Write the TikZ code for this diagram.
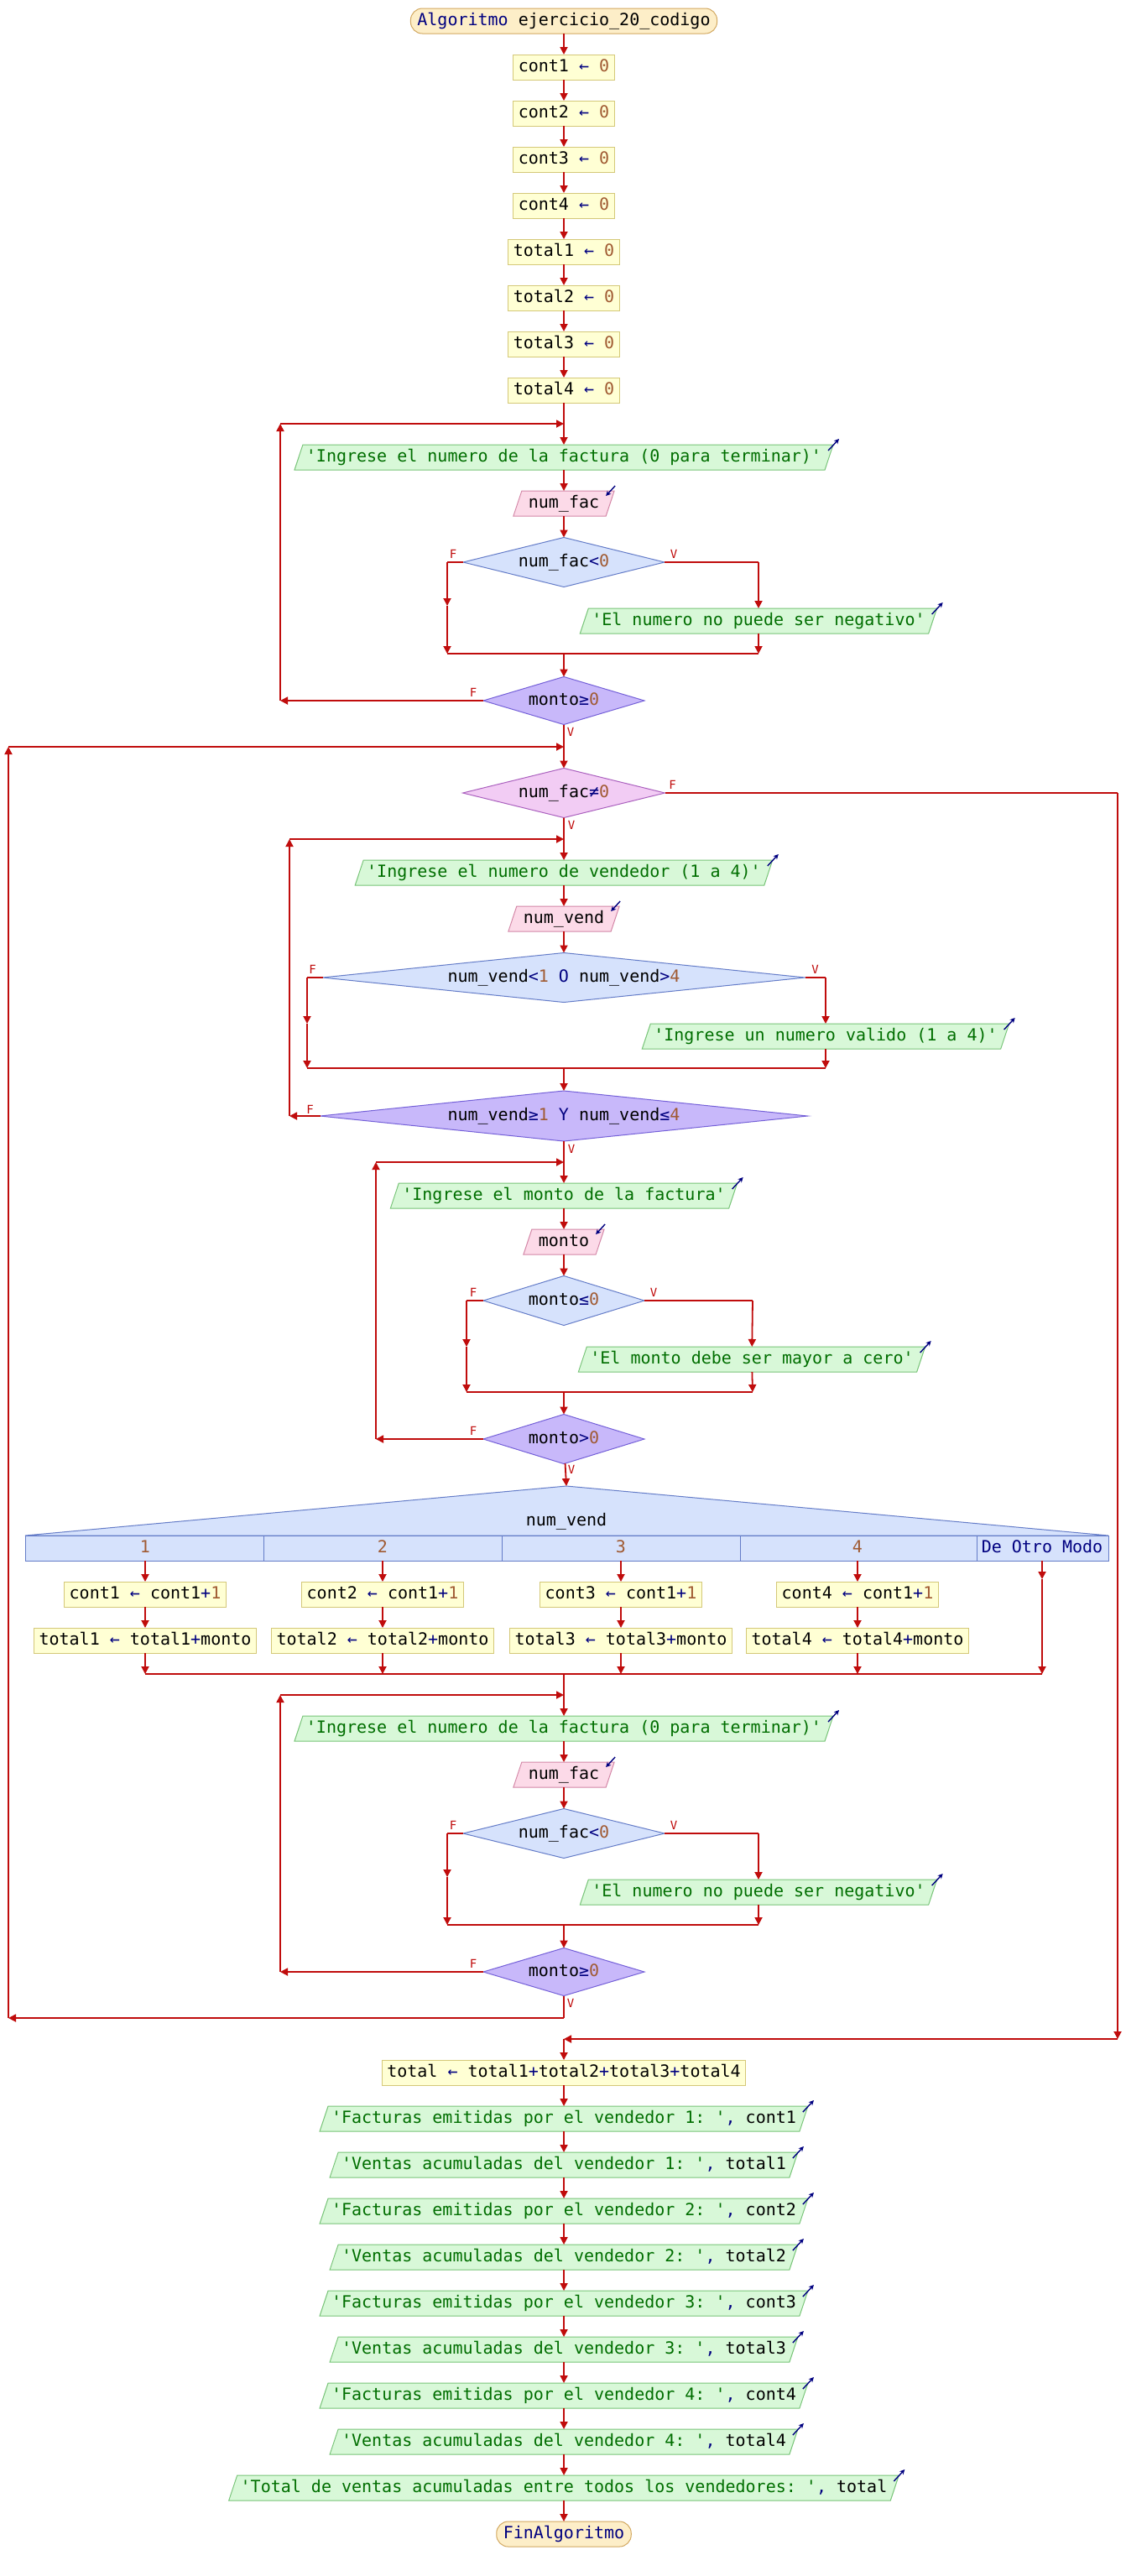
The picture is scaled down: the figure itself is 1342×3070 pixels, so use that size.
\documentclass[tikz,border=0pt]{standalone}
\usepackage{fontspec}
\setmonofont{DejaVu Sans Mono}
\usetikzlibrary{shapes.geometric,arrows.meta,calc}

\definecolor{flowred}{RGB}{192,12,12}
\definecolor{asgfill}{RGB}{255,255,212}
\definecolor{asgdraw}{RGB}{212,200,120}
\definecolor{outfill}{RGB}{216,248,216}
\definecolor{outdraw}{RGB}{120,196,120}
\definecolor{infill}{RGB}{252,218,232}
\definecolor{indraw}{RGB}{212,136,168}
\definecolor{iffill}{RGB}{214,226,252}
\definecolor{ifdraw}{RGB}{100,124,200}
\definecolor{repfill}{RGB}{200,184,250}
\definecolor{repdraw}{RGB}{116,96,216}
\definecolor{whfill}{RGB}{242,204,244}
\definecolor{whdraw}{RGB}{170,96,190}
\definecolor{termfill}{RGB}{253,238,200}
\definecolor{termdraw}{RGB}{210,168,96}
\definecolor{kwc}{RGB}{0,0,128}
\definecolor{strc}{RGB}{0,110,0}
\definecolor{numc}{RGB}{160,90,50}

\newcommand\tkw[1]{\textcolor{kwc}{#1}}
\newcommand\tops[1]{\textcolor{kwc}{#1}}
\newcommand\tstr[1]{\textcolor{strc}{#1}}
\newcommand\tnum[1]{\textcolor{numc}{#1}}

\begin{document}
\begin{tikzpicture}[x=0.5pt,y=-0.5pt,
  every node/.style={font=\ttfamily\fontsize{10}{12}\selectfont,
    text height=7pt, text depth=2pt, outer sep=0pt},
  asg/.style={draw=asgdraw, fill=asgfill, line width=0.5pt,
    minimum height=15pt, inner xsep=3pt, inner ysep=0pt},
  term/.style={draw=termdraw, fill=termfill, line width=0.5pt,
    rounded corners=7pt, minimum height=15pt, inner xsep=4pt, inner ysep=0pt},
  outp/.style={trapezium, trapezium left angle=71.6, trapezium right angle=108.4,
    draw=outdraw, fill=outfill, line width=0.5pt, inner xsep=2pt, inner ysep=3pt},
  inp/.style={trapezium, trapezium left angle=71.6, trapezium right angle=108.4,
    draw=indraw, fill=infill, line width=0.5pt, inner xsep=4pt, inner ysep=3pt},
  ifdec/.style={diamond, shape aspect=4, draw=ifdraw, fill=iffill, line width=0.5pt, inner sep=0pt},
  repdec/.style={diamond, shape aspect=4, draw=repdraw, fill=repfill, line width=0.5pt, inner sep=0pt},
  whdec/.style={diamond, shape aspect=4, draw=whdraw, fill=whfill, line width=0.5pt, inner sep=0pt},
  flow/.style={draw=flowred, line width=0.9pt, -{Triangle[length=4.5pt,width=4.5pt]}},
  seg/.style={draw=flowred, line width=0.9pt},
  lbl/.style={text=flowred, font=\ttfamily\fontsize{7}{8}\selectfont, inner sep=0pt},
  outicon/.style={draw=kwc, line width=0.7pt, -{Stealth[length=3pt,width=3pt]}},
  caselbl/.style={minimum height=15pt, inner sep=0pt},
]
\fill[white] (0,0) rectangle (1342,3070);
\useasboundingbox (0,0) rectangle (1342,3070);

% ---------- initialisation ----------
\node[term] (start) at (672,25) {\tkw{Algoritmo} ejercicio\_20\_codigo};
\node[asg] (a1) at (672,80)  {cont1 \tops{←} \tnum{0}};
\node[asg] (a2) at (672,135) {cont2 \tops{←} \tnum{0}};
\node[asg] (a3) at (672,190) {cont3 \tops{←} \tnum{0}};
\node[asg] (a4) at (672,245) {cont4 \tops{←} \tnum{0}};
\node[asg] (a5) at (672,300) {total1 \tops{←} \tnum{0}};
\node[asg] (a6) at (672,355) {total2 \tops{←} \tnum{0}};
\node[asg] (a7) at (672,410) {total3 \tops{←} \tnum{0}};
\node[asg] (a8) at (672,465) {total4 \tops{←} \tnum{0}};

% ---------- first repeat: read invoice number ----------
\node[outp] (o1) at (672,545) {\tstr{'Ingrese el numero de la factura (0 para terminar)'}};
\node[inp] (i1) at (672,600) {num\_fac};
\node[ifdec, minimum width=120pt, minimum height=29.5pt] (d1) at (672,670) {num\_fac\tops{<}\tnum{0}};
\node[outp] (o2) at (904,740) {\tstr{'El numero no puede ser negativo'}};
\node[repdec, minimum width=96pt, minimum height=28.5pt] (r1) at (672,835) {monto\tops{≥}\tnum{0}};

% ---------- while num_fac<>0 ----------
\node[whdec, minimum width=120.5pt, minimum height=29.5pt] (w1) at (672,945) {num\_fac\tops{≠}\tnum{0}};

% ---------- repeat: read seller ----------
\node[outp] (o3) at (672,1040) {\tstr{'Ingrese el numero de vendedor (1 a 4)'}};
\node[inp] (i2) at (672,1095) {num\_vend};
\node[ifdec, shape aspect=10, minimum width=287.5pt, minimum height=29.5pt] (d2) at (672,1165)
  {num\_vend\tops{<}\tnum{1} \tkw{O} num\_vend\tops{>}\tnum{4}};
\node[outp] (o4) at (984,1235) {\tstr{'Ingrese un numero valido (1 a 4)'}};
\node[repdec, shape aspect=10, minimum width=290.5pt, minimum height=30pt] (r2) at (672,1330)
  {num\_vend\tops{≥}\tnum{1} \tkw{Y} num\_vend\tops{≤}\tnum{4}};

% ---------- repeat: read amount ----------
\node[outp] (o5) at (672,1425) {\tstr{'Ingrese el monto de la factura'}};
\node[inp] (i3) at (672,1480) {monto};
\node[ifdec, minimum width=96pt, minimum height=29.5pt] (d3) at (672,1550) {monto\tops{≤}\tnum{0}};
\node[outp] (o6) at (896,1620) {\tstr{'El monto debe ser mayor a cero'}};
\node[repdec, minimum width=96pt, minimum height=29.5pt] (r3) at (672,1715) {monto\tops{>}\tnum{0}};

% ---------- segun num_vend ----------
\filldraw[fill=iffill, draw=ifdraw, line width=0.5pt] (30,1830) -- (675,1771) -- (1321,1830) -- cycle;
\filldraw[fill=iffill, draw=ifdraw, line width=0.5pt] (30,1830) rectangle (1321,1860);
\foreach \xd in {314,598,882,1164} \draw[ifdraw, line width=0.5pt] (\xd,1830) -- (\xd,1860);
\coordinate (sgtop) at (675,1771);
\node (sgvar) at (675,1813) {num\_vend};
\node[caselbl] (c1) at (173,1845) {\tnum{1}};
\node[caselbl] (c2) at (456,1845) {\tnum{2}};
\node[caselbl] (c3) at (740,1845) {\tnum{3}};
\node[caselbl] (c4) at (1022,1845) {\tnum{4}};
\node[caselbl] (c5) at (1242,1845) {\tkw{De Otro Modo}};
\node[asg] (b1) at (173,1900) {cont1 \tops{←} cont1\tops{+}\tnum{1}};
\node[asg] (b2) at (456,1900) {cont2 \tops{←} cont1\tops{+}\tnum{1}};
\node[asg] (b3) at (740,1900) {cont3 \tops{←} cont1\tops{+}\tnum{1}};
\node[asg] (b4) at (1022,1900) {cont4 \tops{←} cont1\tops{+}\tnum{1}};
\node[asg] (t1) at (173,1955) {total1 \tops{←} total1\tops{+}monto};
\node[asg] (t2) at (456,1955) {total2 \tops{←} total2\tops{+}monto};
\node[asg] (t3) at (740,1955) {total3 \tops{←} total3\tops{+}monto};
\node[asg] (t4) at (1022,1955) {total4 \tops{←} total4\tops{+}monto};

% ---------- second repeat: read next invoice number ----------
\node[outp] (o7) at (672,2060) {\tstr{'Ingrese el numero de la factura (0 para terminar)'}};
\node[inp] (i4) at (672,2115) {num\_fac};
\node[ifdec, minimum width=120pt, minimum height=29.5pt] (d4) at (672,2185) {num\_fac\tops{<}\tnum{0}};
\node[outp] (o8) at (904,2255) {\tstr{'El numero no puede ser negativo'}};
\node[repdec, minimum width=96pt, minimum height=28.5pt] (r4) at (672,2350) {monto\tops{≥}\tnum{0}};

% ---------- results ----------
\node[asg] (tot) at (672,2470) {total \tops{←} total1\tops{+}total2\tops{+}total3\tops{+}total4};
\node[outp] (p1) at (672,2525) {\tstr{'Facturas emitidas por el vendedor 1: '}\tops{,} cont1};
\node[outp] (p2) at (672,2580) {\tstr{'Ventas acumuladas del vendedor 1: '}\tops{,} total1};
\node[outp] (p3) at (672,2635) {\tstr{'Facturas emitidas por el vendedor 2: '}\tops{,} cont2};
\node[outp] (p4) at (672,2690) {\tstr{'Ventas acumuladas del vendedor 2: '}\tops{,} total2};
\node[outp] (p5) at (672,2745) {\tstr{'Facturas emitidas por el vendedor 3: '}\tops{,} cont3};
\node[outp] (p6) at (672,2800) {\tstr{'Ventas acumuladas del vendedor 3: '}\tops{,} total3};
\node[outp] (p7) at (672,2855) {\tstr{'Facturas emitidas por el vendedor 4: '}\tops{,} cont4};
\node[outp] (p8) at (672,2910) {\tstr{'Ventas acumuladas del vendedor 4: '}\tops{,} total4};
\node[outp] (p9) at (672,2965) {\tstr{'Total de ventas acumuladas entre todos los vendedores: '}\tops{,} total};
\node[term] (fin) at (672,3020) {\tkw{FinAlgoritmo}};

% ---------- input / output markers ----------
\foreach \n in {o1,o2,o3,o4,o5,o6,o7,o8,p1,p2,p3,p4,p5,p6,p7,p8,p9}
  \draw[outicon] ($(\n.top right corner)+(-6,7)$) -- ++(13,-14);
\foreach \n in {i1,i2,i3,i4}
  \draw[outicon] ($(\n.top right corner)+(1,-6)$) -- ++(-11,12);

% ---------- helper coordinates ----------
\coordinate (m1) at (672,505);   \coordinate (r1l) at (334,835);  \coordinate (r1t) at (334,505);
\coordinate (d1l) at (533,670);  \coordinate (d1lm) at (533,722); \coordinate (d1lb) at (533,779);
\coordinate (d1r) at (904,670);  \coordinate (d1rb) at (904,779); \coordinate (j1) at (672,779);
\coordinate (m2) at (672,890);   \coordinate (wl) at (10,2405);   \coordinate (wt) at (10,890);
\coordinate (wb) at (672,2405);
\coordinate (wr) at (1332,945);  \coordinate (wrb) at (1332,2430); \coordinate (wx) at (672,2430);
\coordinate (m3) at (672,1000);  \coordinate (r2l) at (345,1330); \coordinate (r2t) at (345,1000);
\coordinate (d2l) at (366,1165); \coordinate (d2lm) at (366,1220); \coordinate (d2lb) at (366,1273);
\coordinate (d2r) at (984,1165); \coordinate (d2rb) at (984,1273); \coordinate (j2) at (672,1273);
\coordinate (m4) at (672,1385);  \coordinate (r3l) at (448,1715); \coordinate (r3t) at (448,1385);
\coordinate (d3l) at (556,1550); \coordinate (d3lm) at (556,1605); \coordinate (d3lb) at (556,1659);
\coordinate (d3r) at (897,1550); \coordinate (d3rb) at (897,1659); \coordinate (j3) at (672,1659);
\coordinate (k1) at (173,1995);  \coordinate (k2) at (456,1995);  \coordinate (k3) at (740,1995);
\coordinate (k4) at (1022,1995); \coordinate (k5m) at (1242,1882); \coordinate (k5) at (1242,1995);
\coordinate (j4) at (672,1995);
\coordinate (m5) at (672,2020);  \coordinate (r4l) at (334,2350); \coordinate (r4t) at (334,2020);
\coordinate (d4l) at (533,2185); \coordinate (d4lm) at (533,2237); \coordinate (d4lb) at (533,2294);
\coordinate (d4r) at (904,2185); \coordinate (d4rb) at (904,2294); \coordinate (j5) at (672,2294);

% ---------- connectors ----------
\draw[flow] (start) -- (a1);
\draw[flow] (a1) -- (a2);
\draw[flow] (a2) -- (a3);
\draw[flow] (a3) -- (a4);
\draw[flow] (a4) -- (a5);
\draw[flow] (a5) -- (a6);
\draw[flow] (a6) -- (a7);
\draw[flow] (a7) -- (a8);
\draw[flow] (a8) -- (o1);
\draw[flow] (o1) -- (i1);
\draw[flow] (i1) -- (d1);
\draw[seg] (d1.west) -- (d1l);
\draw[flow] (d1l) -- (d1lm);
\draw[flow] (d1lm) -- (d1lb);
\draw[seg] (d1.east) -- (d1r);
\draw[flow] (d1r) -- (o2);
\draw[flow] (o2) -- (d1rb);
\draw[seg] (d1lb) -- (d1rb);
\draw[flow] (j1) -- (r1);
\draw[flow] (r1.west) -- (r1l);
\draw[flow] (r1l) -- (r1t);
\draw[flow] (r1t) -- (m1);

\draw[flow] (r1) -- (w1);
\draw[seg] (w1.east) -- (wr);
\draw[flow] (wr) -- (wrb);
\draw[flow] (wrb) -- (wx);
\draw[flow] (wx) -- (tot);

\draw[flow] (w1) -- (o3);
\draw[flow] (o3) -- (i2);
\draw[flow] (i2) -- (d2);
\draw[seg] (d2.west) -- (d2l);
\draw[flow] (d2l) -- (d2lm);
\draw[flow] (d2lm) -- (d2lb);
\draw[seg] (d2.east) -- (d2r);
\draw[flow] (d2r) -- (o4);
\draw[flow] (o4) -- (d2rb);
\draw[seg] (d2lb) -- (d2rb);
\draw[flow] (j2) -- (r2);
\draw[flow] (r2.west) -- (r2l);
\draw[flow] (r2l) -- (r2t);
\draw[flow] (r2t) -- (m3);

\draw[flow] (r2) -- (o5);
\draw[flow] (o5) -- (i3);
\draw[flow] (i3) -- (d3);
\draw[seg] (d3.west) -- (d3l);
\draw[flow] (d3l) -- (d3lm);
\draw[flow] (d3lm) -- (d3lb);
\draw[seg] (d3.east) -- (d3r);
\draw[flow] (d3r) -- (o6);
\draw[flow] (o6) -- (d3rb);
\draw[seg] (d3lb) -- (d3rb);
\draw[flow] (j3) -- (r3);
\draw[flow] (r3.west) -- (r3l);
\draw[flow] (r3l) -- (r3t);
\draw[flow] (r3t) -- (m4);

\draw[flow] (r3) -- (sgtop);
\draw[flow] (c1) -- (b1);
\draw[flow] (c2) -- (b2);
\draw[flow] (c3) -- (b3);
\draw[flow] (c4) -- (b4);
\draw[flow] (b1) -- (t1);
\draw[flow] (b2) -- (t2);
\draw[flow] (b3) -- (t3);
\draw[flow] (b4) -- (t4);
\draw[flow] (t1) -- (k1);
\draw[flow] (t2) -- (k2);
\draw[flow] (t3) -- (k3);
\draw[flow] (t4) -- (k4);
\draw[flow] (c5) -- (k5m);
\draw[flow] (k5m) -- (k5);
\draw[seg] (k1) -- (k5);
\draw[flow] (j4) -- (o7);

\draw[flow] (o7) -- (i4);
\draw[flow] (i4) -- (d4);
\draw[seg] (d4.west) -- (d4l);
\draw[flow] (d4l) -- (d4lm);
\draw[flow] (d4lm) -- (d4lb);
\draw[seg] (d4.east) -- (d4r);
\draw[flow] (d4r) -- (o8);
\draw[flow] (o8) -- (d4rb);
\draw[seg] (d4lb) -- (d4rb);
\draw[flow] (j5) -- (r4);
\draw[flow] (r4.west) -- (r4l);
\draw[flow] (r4l) -- (r4t);
\draw[flow] (r4t) -- (m5);

\draw[seg] (r4) -- (wb);
\draw[flow] (wb) -- (wl);
\draw[flow] (wl) -- (wt);
\draw[flow] (wt) -- (m2);

\draw[flow] (tot) -- (p1);
\draw[flow] (p1) -- (p2);
\draw[flow] (p2) -- (p3);
\draw[flow] (p3) -- (p4);
\draw[flow] (p4) -- (p5);
\draw[flow] (p5) -- (p6);
\draw[flow] (p6) -- (p7);
\draw[flow] (p7) -- (p8);
\draw[flow] (p8) -- (p9);
\draw[flow] (p9) -- (fin);

% ---------- branch labels ----------
\node[lbl] at ($(d1.west)+(-12,-10)$) {F};
\node[lbl] at ($(d1.east)+(11,-10)$) {V};
\node[lbl] at ($(r1.west)+(-12,-10)$) {F};
\node[lbl] at ($(r1.south)+(8,9)$) {V};
\node[lbl] at ($(w1.east)+(9,-10)$) {F};
\node[lbl] at ($(w1.south)+(9,9)$) {V};
\node[lbl] at ($(d2.west)+(-12,-10)$) {F};
\node[lbl] at ($(d2.east)+(12,-10)$) {V};
\node[lbl] at ($(r2.west)+(-12,-8)$) {F};
\node[lbl] at ($(r2.south)+(9,9)$) {V};
\node[lbl] at ($(d3.west)+(-12,-10)$) {F};
\node[lbl] at ($(d3.east)+(11,-10)$) {V};
\node[lbl] at ($(r3.west)+(-12,-10)$) {F};
\node[lbl] at ($(r3.south)+(9,7)$) {V};
\node[lbl] at ($(d4.west)+(-12,-10)$) {F};
\node[lbl] at ($(d4.east)+(11,-10)$) {V};
\node[lbl] at ($(r4.west)+(-12,-10)$) {F};
\node[lbl] at ($(r4.south)+(8,9)$) {V};
\end{tikzpicture}
\end{document}
